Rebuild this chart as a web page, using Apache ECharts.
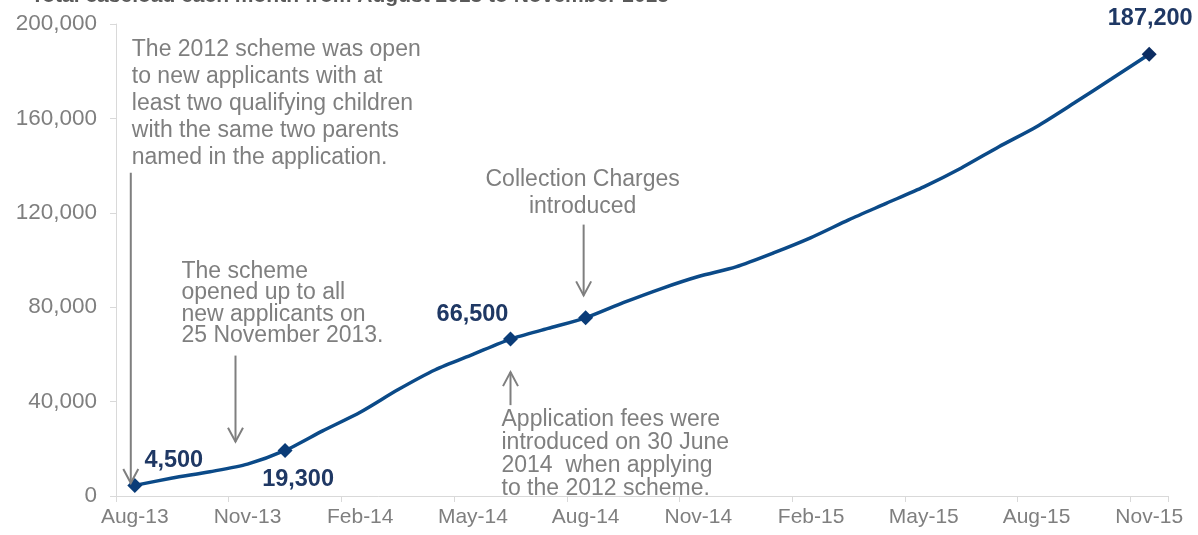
<!DOCTYPE html>
<html>
<head>
<meta charset="utf-8">
<script src="https://cdn.jsdelivr.net/npm/echarts@6/dist/echarts.min.js"></script>
<style>
  html, body { margin: 0; padding: 0; background: #ffffff; }
  #chart { width: 1198px; height: 535px; }
</style>
</head>
<body>
<div id="chart"></div>
<script>
// Monthly caseload, August 2013 to November 2015
const months = [
  'Aug-13', 'Sep-13', 'Oct-13', 'Nov-13', 'Dec-13',
  'Jan-14', 'Feb-14', 'Mar-14', 'Apr-14', 'May-14', 'Jun-14', 'Jul-14',
  'Aug-14', 'Sep-14', 'Oct-14', 'Nov-14', 'Dec-14',
  'Jan-15', 'Feb-15', 'Mar-15', 'Apr-15', 'May-15', 'Jun-15', 'Jul-15',
  'Aug-15', 'Sep-15', 'Oct-15', 'Nov-15'
];
const caseload = [
  4500, 7600, 10300, 13500, 19300,
  27600, 35500, 45000, 53500, 60000, 66500, 71000,
  75500, 81900, 87800, 93000, 97100,
  103000, 109500, 117000, 124000, 131000, 139000, 148000,
  156500, 166500, 176800, 187200
];
// Months that carry a diamond marker, and the ones whose value is written out
const markedMonths = ['Aug-13', 'Dec-13', 'Jun-14', 'Aug-14', 'Nov-15'];
const labelledMonths = ['Aug-13', 'Dec-13', 'Jun-14', 'Nov-15'];

const titleText = 'Total caseload each month from August 2013 to November 2015';

const FONT = '"Liberation Sans", Arial, sans-serif';
const GREY = '#7f7f7f';
const LINE_BLUE = '#0b4a88';
const MARK_BLUE = '#0a3c78';
const LABEL_BLUE = '#1f3864';

// where each value label sits relative to its marker (px)
const labelOffsets = {
  'Aug-13': [39, -25],
  'Dec-13': [13, 29],
  'Jun-14': [-38, -25],
  'Nov-15': [1, -36]
};

const fmt = v => v.toLocaleString('en-GB');

const seriesData = caseload.map((v, i) => {
  const m = months[i];
  if (markedMonths.indexOf(m) < 0) return v;
  const item = { value: v, symbol: 'diamond', symbolSize: 15,
                 itemStyle: { color: m === 'Nov-15' ? '#0c2d62' : MARK_BLUE } };
  if (labelledMonths.indexOf(m) >= 0) {
    item.label = {
      show: true, position: 'inside', offset: labelOffsets[m],
      formatter: p => fmt(p.value),
      color: LABEL_BLUE, fontFamily: FONT, fontWeight: 'bold', fontSize: 23.5
    };
  }
  return item;
});

// Event notes: text blocks and arrows, anchored to (month, caseload value)
const notes = [
  { at: ['Aug-13', 194900], dx: -3, align: 'left', lineHeight: 27,
    lines: ['The 2012 scheme was open', 'to new applicants with at',
            'least two qualifying children', 'with the same two parents',
            'named in the application.'] },
  { at: ['Nov-13', 99800], dx: -66, align: 'left', lineHeight: 21.5,
    lines: ['The scheme', 'opened up to all', 'new applicants on', '25 November 2013.'] },
  { at: ['Aug-14', 139700], dx: -3, align: 'center', lineHeight: 27,
    lines: ['Collection Charges', 'introduced'] },
  { at: ['Jun-14', 37300], dx: -9, align: 'left', lineHeight: 23,
    lines: ['Application fees were', 'introduced on 30 June',
            '2014  when applying', 'to the 2012 scheme.'] }
];
const arrows = [
  { month: 'Aug-13', dx: -4, from: 137000, to: 5500 },
  { month: 'Nov-13', dx: -12, from: 59500, to: 23000 },
  { month: 'Aug-14', dx: -2, from: 115000, to: 85000 },
  { month: 'Jun-14', dx: 0, from: 38500, to: 52500 }
];

const chart = echarts.init(document.getElementById('chart'), null, { renderer: 'canvas' });

chart.setOption({
  animation: false,
  backgroundColor: '#ffffff',
  title: {
    text: titleText, left: 26, top: -19,
    textStyle: { color: '#595959', fontFamily: FONT, fontWeight: 'bold', fontSize: 21 }
  },
  grid: { left: 116, right: 30, top: 24, bottom: 39, containLabel: false },
  xAxis: {
    type: 'category',
    data: months,
    boundaryGap: true,
    axisLine: { lineStyle: { color: '#d9d9d9', width: 1 } },
    axisTick: { show: true, interval: 2, length: 6, lineStyle: { color: '#d9d9d9' } },
    axisLabel: { interval: 2, color: GREY, fontFamily: FONT, fontSize: 21, margin: 11 },
    splitLine: { show: false }
  },
  yAxis: {
    type: 'value',
    min: 0, max: 200000, interval: 40000,
    axisLine: { show: true, lineStyle: { color: '#d9d9d9', width: 1 } },
    axisTick: { show: true, length: 6, lineStyle: { color: '#d9d9d9' } },
    axisLabel: { color: GREY, fontFamily: FONT, fontSize: 22.5, margin: 19, formatter: v => fmt(v) },
    splitLine: { show: false }
  },
  series: [{
    type: 'line',
    data: seriesData,
    symbol: 'none',
    showSymbol: true,
    showAllSymbol: true,
    smooth: 0.25,
    lineStyle: { color: LINE_BLUE, width: 3.5 },
    itemStyle: { color: MARK_BLUE },
    z: 3
  }]
});

// Draw the notes and arrows in pixel space once the axes exist
function px(month, value) {
  return chart.convertToPixel({ xAxisIndex: 0, yAxisIndex: 0 }, [months.indexOf(month), value]);
}

const graphics = [];
notes.forEach(n => {
  const p = px(n.at[0], n.at[1]);
  graphics.push({
    type: 'text',
    x: p[0] + n.dx, y: p[1],
    style: {
      text: n.lines.join('\n'),
      font: '23px ' + FONT,
      fill: GREY,
      lineHeight: n.lineHeight,
      align: n.align,
      verticalAlign: 'top'
    },
    z: 10
  });
});
arrows.forEach(a => {
  const s = px(a.month, a.from);
  const e = px(a.month, a.to);
  const x = s[0] + a.dx;
  const dir = e[1] > s[1] ? 1 : -1;
  const head = 14, half = 7.5;
  graphics.push({
    type: 'line',
    shape: { x1: x, y1: s[1], x2: x, y2: e[1] },
    style: { stroke: GREY, lineWidth: 2 }, z: 9
  });
  graphics.push({
    type: 'polyline',
    shape: { points: [[x - half, e[1] - dir * head], [x, e[1]], [x + half, e[1] - dir * head]] },
    style: { stroke: GREY, lineWidth: 2, fill: null }, z: 9
  });
});
chart.setOption({ graphic: graphics });
</script>
</body>
</html>
